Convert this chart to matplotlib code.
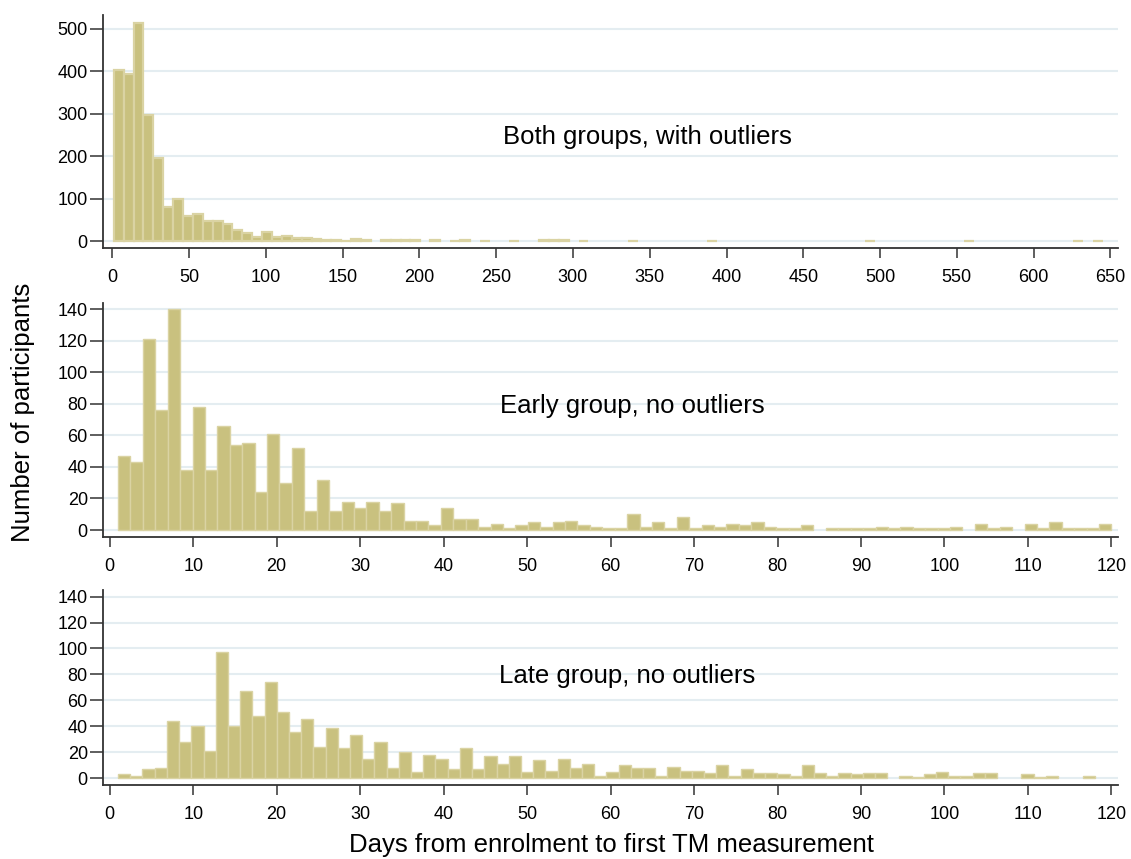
import matplotlib
matplotlib.use("Agg")
import matplotlib.pyplot as plt
import numpy as np

plt.rcParams["font.family"] = ["Liberation Sans", "DejaVu Sans"]

# histogram counts per bin (days from enrolment to first TM measurement)
both_counts = [403, 395, 515, 298, 195, 81, 99, 60, 63, 48,
               48, 40, 27, 20, 10, 21, 11, 13, 7, 7,
               5, 3, 3, 1, 5, 3, 0, 3, 3, 2,
               2, 0, 2, 0, 1, 2, 0, 1, 0, 0,
               1, 0, 0, 2, 2, 2, 0, 1, 0, 0,
               0, 0, 1, 0, 0, 0, 0, 0, 0, 0,
               1, 0, 0, 0, 0, 0, 0, 0, 0, 0,
               0, 0, 0, 0, 0, 0, 1, 0, 0, 0,
               0, 0, 0, 0, 0, 0, 1, 0, 0, 0,
               0, 0, 0, 0, 0, 0, 0, 1, 0, 1]
both_range = (1, 645)

early_counts = [47, 43, 121, 76, 140, 38, 78, 38, 66, 54,
                55, 24, 61, 30, 52, 12, 32, 12, 18, 14,
                18, 12, 17, 6, 6, 3, 14, 7, 7, 2,
                4, 1, 3, 5, 2, 5, 6, 3, 2, 1,
                1, 10, 2, 5, 1, 8, 1, 3, 2, 4,
                3, 5, 2, 1, 1, 3, 0, 1, 1, 1,
                1, 2, 1, 2, 1, 1, 1, 2, 0, 4,
                1, 2, 0, 4, 1, 5, 1, 1, 1, 4]
early_range = (1, 120)

late_counts = [3, 2, 7, 8, 44, 28, 40, 21, 97, 40,
               67, 48, 74, 51, 36, 46, 24, 39, 23, 33,
               15, 28, 8, 20, 5, 18, 15, 7, 23, 7,
               17, 11, 17, 5, 14, 6, 15, 8, 11, 2,
               5, 10, 8, 8, 2, 9, 6, 6, 4, 10,
               2, 7, 4, 4, 3, 2, 10, 4, 2, 4,
               3, 4, 4, 0, 2, 1, 3, 5, 2, 2,
               4, 4, 0, 0, 3, 1, 2, 0, 0, 2]
late_range = (1, 118)

panel_titles = ["Both groups, with outliers",
                "Early group, no outliers",
                "Late group, no outliers"]

bar_color = "#c9c17f"
edge_color = "#dad3a3"
grid_color = "#e4edf1"
axis_color = "#333333"


def draw_hist(ax, counts, span, xticks, yticks, xlim, ylim, title, title_pos, edge_lw=1.0):
    counts = np.array(counts)
    edges = np.linspace(span[0], span[1], len(counts) + 1)
    keep = counts > 0
    ax.bar(edges[:-1][keep], counts[keep], width=np.diff(edges)[keep], align="edge",
           color=bar_color, edgecolor=edge_color, linewidth=edge_lw, zorder=2)

    for y in yticks:
        ax.axhline(y, color=grid_color, lw=1.5, zorder=1)

    ax.set_xlim(*xlim)
    ax.set_ylim(*ylim)
    ax.set_xticks(xticks)
    ax.set_yticks(yticks)
    ax.tick_params(axis="both", direction="out", width=1.1,
                   color=axis_color, labelsize=13, labelcolor="black")
    ax.tick_params(axis="x", length=7, pad=8)
    ax.tick_params(axis="y", length=9.5, pad=1.5)
    for side in ["top", "right"]:
        ax.spines[side].set_visible(False)
    for side in ["left", "bottom"]:
        ax.spines[side].set_color(axis_color)
        ax.spines[side].set_linewidth(1.3)

    ax.text(title_pos[0], title_pos[1], title, transform=ax.transAxes,
            ha="center", va="center", fontsize=18.5)


fig = plt.figure(figsize=(11.31, 8.59), dpi=100)
ax1 = fig.add_axes([0.0911, 0.7113, 0.8975, 0.2713])
ax2 = fig.add_axes([0.0911, 0.3749, 0.8975, 0.2724])
ax3 = fig.add_axes([0.0911, 0.0861, 0.8975, 0.2270])

draw_hist(ax1, both_counts, both_range, np.arange(0, 651, 50), np.arange(0, 501, 100),
          (-6, 655), (-16, 533), panel_titles[0], (0.536, 0.476), edge_lw=1.6)
draw_hist(ax2, early_counts, early_range, np.arange(0, 121, 10), np.arange(0, 141, 20),
          (-0.8, 120.8), (-4.4, 144), panel_titles[1], (0.521, 0.56))
draw_hist(ax3, late_counts, late_range, np.arange(0, 121, 10), np.arange(0, 141, 20),
          (-0.8, 120.8), (-5.2, 145), panel_titles[2], (0.516, 0.559))

fig.text(0.02, 1 - 412 / 859, "Number of participants", rotation=90,
         ha="center", va="center", fontsize=18.5)
fig.text(611 / 1131, 1 - 845 / 859, "Days from enrolment to first TM measurement",
         ha="center", va="center", fontsize=18.5)

fig.savefig("out.png", dpi=100)
